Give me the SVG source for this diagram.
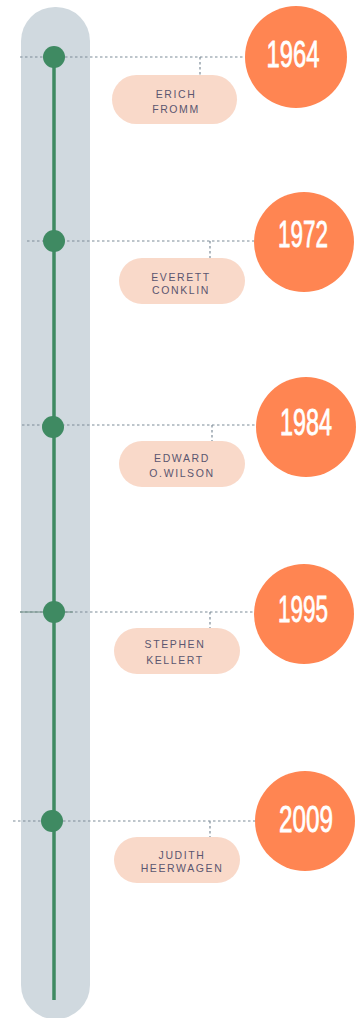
<svg xmlns="http://www.w3.org/2000/svg" width="363" height="1018" viewBox="0 0 363 1018">
<style>
.dash{stroke:#7d8c98;stroke-width:1.2;stroke-dasharray:2.5 2.5;fill:none}
.dot{fill:#3f8a62}
.pill{fill:#f9d9c9}
.name{font-family:"Liberation Sans",Arial,sans-serif;font-size:10.5px;letter-spacing:1.6px;fill:#5b5670;text-anchor:middle}
.yc{fill:#ff8552}
.year{font-family:"Liberation Sans",Arial,sans-serif;font-size:37px;fill:#ffffff;stroke:#ffffff;stroke-width:0.8;text-anchor:middle}
</style>
<rect width="363" height="1018" fill="#ffffff"/>
<rect id="bar" x="21" y="7" width="69" height="1012" rx="34" fill="#d0d9df"/>
<line id="spine" x1="54" y1="57" x2="54" y2="1000" stroke="#3f8a62" stroke-width="3.5"/>
<g id="connectors">
<path class="dash" d="M20 57H246M200 57V75"/>
<path class="dash" d="M27 241H255M210 241V258"/>
<path class="dash" d="M22 425H257M212 425V441"/>
<path class="dash" d="M20 612H255M210 612V628"/>
<line x1="20" y1="612" x2="73" y2="612" stroke="#6f8f84" stroke-width="1"/>
<path class="dash" d="M13 821H256M210 821V837"/>
</g>
<g id="n1964">
<circle class="dot" cx="54" cy="57" r="11"/>
<rect class="pill" x="112" y="75" width="125" height="49" rx="24.5"/>
<text class="name" x="176" y="98">ERICH</text>
<text class="name" x="176" y="113">FROMM</text>
<circle class="yc" cx="296" cy="57" r="51"/>
<text class="year" x="293" y="67" textLength="53" lengthAdjust="spacingAndGlyphs">1964</text>
</g>
<g id="n1972">
<circle class="dot" cx="54" cy="241" r="11"/>
<rect class="pill" x="119" y="258" width="126" height="46" rx="23"/>
<text class="name" x="181" y="281">EVERETT</text>
<text class="name" x="181" y="294">CONKLIN</text>
<circle class="yc" cx="304" cy="242" r="50"/>
<text class="year" x="303" y="247" textLength="50" lengthAdjust="spacingAndGlyphs">1972</text>
</g>
<g id="n1984">
<circle class="dot" cx="53" cy="427" r="11"/>
<rect class="pill" x="119" y="441" width="126" height="46" rx="23"/>
<text class="name" x="182" y="462">EDWARD</text>
<text class="name" x="182" y="477">O.WILSON</text>
<circle class="yc" cx="306" cy="427" r="50"/>
<text class="year" x="306" y="435" textLength="52" lengthAdjust="spacingAndGlyphs">1984</text>
</g>
<g id="n1995">
<circle class="dot" cx="54" cy="612" r="11"/>
<rect class="pill" x="114" y="628" width="126" height="46" rx="23"/>
<text class="name" x="175" y="648">STEPHEN</text>
<text class="name" x="175" y="664">KELLERT</text>
<circle class="yc" cx="304" cy="614" r="50"/>
<text class="year" x="303" y="622" textLength="50" lengthAdjust="spacingAndGlyphs">1995</text>
</g>
<g id="n2009">
<circle class="dot" cx="52" cy="821" r="11"/>
<rect class="pill" x="114" y="837" width="126" height="46" rx="23"/>
<text class="name" x="182" y="859">JUDITH</text>
<text class="name" x="182" y="872">HEERWAGEN</text>
<circle class="yc" cx="305" cy="821" r="50"/>
<text class="year" x="306" y="832" textLength="54" lengthAdjust="spacingAndGlyphs">2009</text>
</g>
</svg>
